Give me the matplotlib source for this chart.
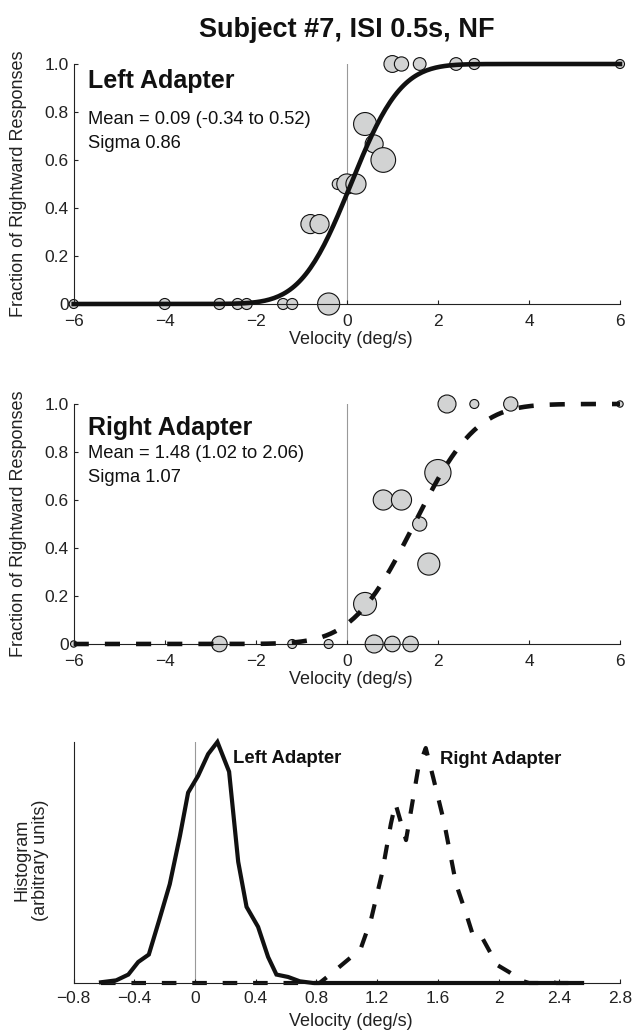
import math
import matplotlib
matplotlib.use('Agg')
import matplotlib.pyplot as plt
import numpy as np

plt.rcParams['font.family'] = ['Liberation Sans', 'DejaVu Sans']

# Left adapter: velocity, fraction rightward, trials
left_v = [-6, -4, -2.8, -2.4, -2.2, -1.4, -1.2, -0.4, -0.8, -0.6, -0.2, 0.0, 0.2,
          0.4, 0.6, 0.8, 1.0, 1.2, 1.6, 2.4, 2.8, 6]
left_p = [0, 0, 0, 0, 0, 0, 0, 0, 0.333, 0.333, 0.5, 0.5, 0.5,
          0.75, 0.667, 0.6, 1, 1, 1, 1, 1, 1]
left_n = [2, 3, 3, 3, 3, 3, 3, 12, 9, 9, 3, 10, 10,
          13, 8, 15, 7, 5, 4, 4, 3, 2]
left_mean, left_sigma = 0.09, 0.86

# Right adapter
right_v = [-6, -2.8, -1.2, -0.4, 0.4, 0.6, 1.0, 1.4, 0.8, 1.2, 1.6, 1.8, 2.0,
           2.2, 2.8, 3.6, 6]
right_p = [0, 0, 0, 0, 0.167, 0, 0, 0, 0.6, 0.6, 0.5, 0.333, 0.714,
           1, 1, 1, 1]
right_n = [1, 6, 2, 2, 13, 8, 6, 6, 10, 10, 5, 12, 17,
           8, 2, 5, 1]
right_mean, right_sigma = 1.48, 1.07

# bootstrap histograms of the mean
hist_left_x = [-0.62, -0.52, -0.44, -0.375, -0.305, -0.237, -0.167, -0.10, -0.046, 0.02,
               0.086, 0.147, 0.224, 0.284, 0.339, 0.415, 0.481, 0.536, 0.613, 0.69,
               0.778, 2.55]
hist_left_h = [0.003, 0.011, 0.035, 0.087, 0.118, 0.26, 0.41, 0.61, 0.79, 0.86,
               0.95, 1.0, 0.877, 0.503, 0.316, 0.233, 0.108, 0.035, 0.025, 0.007,
               0.0, 0.0]
hist_right_x = [-0.62, 0.82, 0.90, 1.09, 1.16, 1.23, 1.29, 1.32, 1.39, 1.47, 1.52,
                1.57, 1.64, 1.72, 1.79, 1.835, 1.89, 1.99, 2.07, 2.15, 2.20, 2.30,
                2.34, 2.38, 2.55]
hist_right_h = [0, 0, 0.04, 0.14, 0.265, 0.45, 0.66, 0.745, 0.593, 0.89, 0.975,
                0.85, 0.67, 0.41, 0.28, 0.19, 0.19, 0.075, 0.045, 0.01, 0, 0,
                0.006, 0, 0]

vel_ticks = [-6, -4, -2, 0, 2, 4, 6]
vel_labels = ['\u22126', '\u22124', '\u22122', '0', '2', '4', '6']
p_ticks = [0, 0.2, 0.4, 0.6, 0.8, 1.0]
p_labels = ['0', '0.2', '0.4', '0.6', '0.8', '1.0']
h_ticks = [-0.8, -0.4, 0, 0.4, 0.8, 1.2, 1.6, 2.0, 2.4, 2.8]
h_labels = ['\u22120.8', '\u22120.4', '0', '0.4', '0.8', '1.2', '1.6', '2', '2.4', '2.8']

W, H = 632, 1031


def cum_gauss(x, mu, sig):
    return np.array([0.5 * (1 + math.erf((v - mu) / (sig * math.sqrt(2)))) for v in x])


def style(ax):
    ax.spines['top'].set_visible(False)
    ax.spines['right'].set_visible(False)
    for s in ['left', 'bottom']:
        ax.spines[s].set_linewidth(0.8)
        ax.spines[s].set_color('#222222')
    ax.tick_params(direction='in', length=3, width=0.8, labelsize=12.5, colors='#222222')
    ax.tick_params(axis='x', pad=7)
    ax.tick_params(axis='y', pad=3.5)


fig = plt.figure(figsize=(W / 100, H / 100), dpi=100)
ax_l = 73.7 / W
ax_w = (620 - 73.7) / W

xs = np.linspace(-6, 6, 241)
panels = [
    (304, left_v, left_p, left_n, left_mean, left_sigma, 'solid',
     'Left Adapter', 'Mean = 0.09 (-0.34 to 0.52)', 'Sigma 0.86', 0.928, 0.768, 0.667),
    (644, right_v, right_p, right_n, right_mean, right_sigma, 'dashed',
     'Right Adapter', 'Mean = 1.48 (1.02 to 2.06)', 'Sigma 1.07', 0.899, 0.792, 0.695),
]

for bot, v, p, n, mu, sig, ls, name, mtxt, stxt, y1, y2, y3 in panels:
    ax = fig.add_axes([ax_l, (H - bot) / H, ax_w, 240 / H])
    style(ax)
    ax.plot([0, 0], [0, 1], color='#999999', lw=0.8, zorder=1)
    ax.scatter(v, p, s=[21 * k for k in n], facecolor='#d2d3d3', edgecolor='#111111',
               linewidth=0.8, zorder=2, clip_on=False)
    line, = ax.plot(xs, cum_gauss(xs, mu, sig), color='#111111', lw=3.3, zorder=3,
                    clip_on=False)
    if ls == 'dashed':
        line.set_dashes((3.3, 3.5))
    ax.set_xlim(-6, 6)
    ax.set_ylim(0, 1)
    ax.set_xticks(vel_ticks)
    ax.set_xticklabels(vel_labels)
    ax.set_yticks(p_ticks)
    ax.set_yticklabels(p_labels)
    ax.text(-5.68, y1, name, fontsize=18, fontweight='bold', va='center', color='#111111')
    ax.text(-5.68, y2, mtxt, fontsize=13.2, va='center', color='#111111')
    ax.text(-5.68, y3, stxt, fontsize=13.2, va='center', color='#111111')
    fig.text(19 / W, 1 - (bot - 120) / H, 'Fraction of Rightward Responses', rotation=90,
             ha='center', va='center', fontsize=13, color='#222222')
    fig.text(351 / W, 1 - (bot + 36) / H, 'Velocity (deg/s)', ha='center', va='center',
             fontsize=13, color='#222222')

# histogram panel
ax = fig.add_axes([ax_l, (H - 983) / H, ax_w, 241 / H])
style(ax)
ax.plot([0, 0], [0, 1], color='#999999', lw=0.8, zorder=1)
ax.plot(hist_right_x, hist_right_h, color='#111111', lw=3, dashes=(3.5, 3.8),
        zorder=2, clip_on=False)
ax.plot(hist_left_x, hist_left_h, color='#111111', lw=3, zorder=3, clip_on=False,
        solid_joinstyle='miter')
ax.set_xlim(-0.8, 2.8)
ax.set_ylim(0, 1)
ax.set_xticks(h_ticks)
ax.set_xticklabels(h_labels)
ax.set_yticks([])
ax.tick_params(axis='x', pad=6)
ax.text(0.25, 0.93, 'Left Adapter', fontsize=13.3, fontweight='bold', va='center',
        color='#111111')
ax.text(1.616, 0.927, 'Right Adapter', fontsize=13.3, fontweight='bold', va='center',
        color='#111111')
fig.text(31 / W, 1 - 860 / H, 'Histogram\n(arbitrary units)', rotation=90,
         ha='center', va='center', fontsize=13, color='#222222', linespacing=1.15)
fig.text(351 / W, 1 - 1022 / H, 'Velocity (deg/s)', ha='center', va='center',
         fontsize=13, color='#222222')

fig.text((73.7 + 620) / 2 / W, 1 - 30 / H, 'Subject #7, ISI 0.5s, NF', ha='center',
         va='center', fontsize=19.5, fontweight='bold', color='#111111')

fig.savefig('out.png', dpi=100)
